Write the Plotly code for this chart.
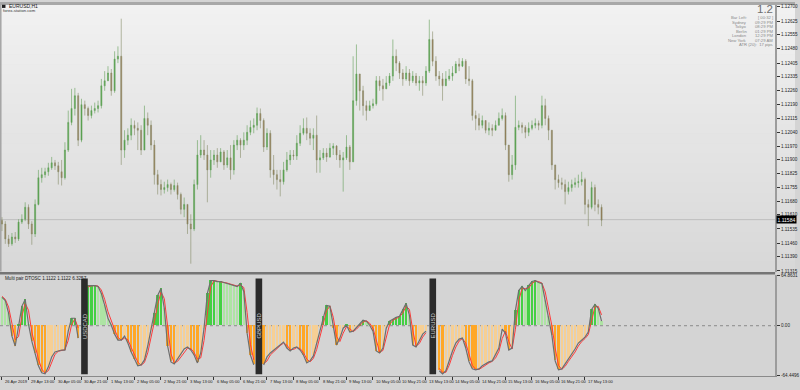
import plotly.graph_objects as go

# ---------------- data (EURUSD H1 chart, sampled as 2-hour bars) ----------------
BASE = 1.1100            # prices below are stored as pips above this base
first_open_pips = 58.0

close_pips = [
    56.1, 48.3, 45.7, 49.3, 48.3, 57.1, 58.6, 64.9, 56.1, 50.9,
    66.4, 80.4, 82.0, 83.5, 85.6, 88.2, 86.6, 83.5, 80.4, 94.9,
    109.4, 116.7, 123.4, 100.1, 118.7, 116.7, 113.0, 115.6, 116.7, 118.2,
    128.6, 131.2, 135.3, 126.0, 142.6, 144.1, 94.9, 100.1, 102.7, 107.9,
    106.3, 105.3, 94.9, 111.5, 107.9, 97.5, 82.0, 76.8, 74.2, 75.2,
    76.8, 74.2, 76.3, 71.6, 63.8, 66.4, 56.1, 53.5, 76.8, 92.3,
    94.9, 92.3, 84.5, 89.7, 92.3, 88.7, 93.9, 87.1, 90.8, 84.5,
    97.5, 100.1, 97.5, 100.1, 104.2, 106.8, 107.9, 114.1, 110.4, 96.5,
    103.7, 84.5, 82.0, 79.4, 78.3, 84.5, 89.7, 92.3, 91.8, 98.5,
    103.7, 106.3, 103.7, 101.1, 102.7, 89.7, 90.8, 93.3, 91.3, 95.9,
    97.0, 92.3, 89.7, 90.8, 96.5, 88.7, 120.8, 134.8, 126.0, 118.2,
    115.6, 118.2, 119.2, 131.2, 128.6, 127.0, 130.1, 133.7, 144.1, 140.5,
    135.3, 132.2, 135.3, 131.2, 133.7, 130.1, 131.2, 130.1, 136.3, 152.9,
    141.5, 133.7, 132.2, 128.6, 132.2, 133.7, 135.3, 140.0, 138.9, 141.5,
    132.2, 131.2, 113.0, 111.5, 107.9, 110.4, 105.3, 106.3, 105.3, 107.9,
    111.5, 113.0, 97.5, 82.0, 87.1, 106.8, 107.9, 106.8, 104.2, 106.3,
    107.9, 108.9, 107.9, 118.2, 111.5, 105.3, 87.1, 79.4, 77.8, 76.8,
    73.1, 75.2, 76.8, 77.8, 78.3, 79.4, 66.4, 64.9, 75.2, 66.4,
    64.9, 58.1]

high_pips = [
    59.7, 57.6, 50.4, 51.4, 51.9, 58.6, 61.2, 67.5, 66.4, 57.6,
    69.0, 84.5, 85.6, 85.6, 88.2, 91.3, 89.7, 88.7, 89.7, 99.0,
    115.6, 127.0, 127.5, 124.9, 121.8, 120.8, 117.7, 118.2, 119.8, 120.8,
    132.2, 136.3, 138.9, 137.4, 146.7, 149.3, 163.8, 105.3, 106.3, 111.5,
    110.4, 109.4, 107.9, 118.2, 114.6, 110.4, 100.1, 84.5, 79.4, 78.3,
    79.4, 77.8, 79.4, 77.8, 72.6, 70.0, 66.4, 61.2, 79.4, 100.1,
    102.7, 100.1, 97.5, 94.9, 94.9, 95.9, 95.9, 94.9, 94.9, 97.5,
    100.1, 102.7, 101.1, 104.2, 107.9, 110.4, 111.5, 117.2, 116.7, 111.5,
    106.3, 105.3, 92.3, 84.5, 84.5, 88.7, 93.9, 94.9, 94.9, 102.7,
    107.9, 111.5, 112.0, 106.3, 106.3, 113.0, 94.9, 95.9, 95.9, 98.5,
    98.5, 97.5, 94.9, 93.9, 102.7, 97.5, 144.1, 150.3, 131.2, 128.6,
    120.8, 120.8, 121.8, 133.7, 133.7, 132.2, 133.7, 135.3, 152.9, 147.7,
    141.5, 137.4, 138.9, 137.4, 136.3, 135.3, 133.7, 133.7, 138.9, 163.3,
    157.1, 144.1, 136.3, 135.3, 136.3, 137.4, 138.9, 141.5, 143.1, 143.1,
    142.6, 138.9, 132.2, 115.6, 114.1, 113.0, 110.4, 109.4, 108.4, 110.4,
    114.6, 116.7, 114.6, 97.5, 92.3, 123.4, 110.4, 109.4, 107.9, 109.4,
    110.4, 111.5, 110.4, 123.4, 121.8, 113.0, 105.3, 87.1, 82.0, 80.4,
    79.4, 78.3, 79.4, 80.4, 82.0, 83.5, 80.4, 69.0, 78.3, 76.8,
    69.0, 66.4]

low_pips = [
    52.4, 45.7, 44.1, 44.7, 46.2, 47.2, 56.1, 57.6, 53.5, 45.2,
    49.3, 65.9, 77.8, 80.4, 81.4, 84.5, 84.5, 76.8, 76.3, 79.4,
    93.9, 107.9, 113.0, 97.0, 99.0, 113.0, 110.4, 111.5, 114.1, 114.6,
    116.7, 126.0, 131.2, 123.4, 124.9, 140.5, 87.1, 90.8, 97.5, 100.1,
    102.7, 94.9, 92.3, 94.9, 102.7, 94.9, 76.8, 71.6, 71.1, 72.1,
    73.1, 71.6, 73.1, 69.0, 61.2, 59.7, 50.9, 35.3, 52.4, 74.2,
    90.8, 89.7, 67.5, 80.4, 87.1, 85.6, 90.8, 84.5, 85.6, 79.4,
    82.0, 94.9, 90.8, 94.9, 97.5, 102.7, 103.7, 105.3, 106.3, 93.9,
    94.9, 80.4, 76.8, 74.2, 70.6, 76.8, 83.5, 87.1, 89.7, 89.7,
    97.0, 102.7, 100.1, 97.5, 94.9, 83.0, 83.0, 89.7, 88.7, 90.8,
    92.3, 89.7, 85.6, 73.1, 89.7, 84.5, 88.7, 118.2, 115.6, 113.0,
    110.4, 115.6, 116.7, 118.2, 126.0, 120.8, 127.0, 128.6, 131.2, 136.3,
    132.2, 128.6, 131.2, 128.6, 130.1, 128.6, 126.0, 123.4, 128.6, 135.3,
    138.9, 131.2, 128.6, 120.8, 128.6, 131.2, 131.2, 136.3, 136.3, 138.4,
    129.6, 128.6, 110.4, 105.3, 105.3, 106.3, 103.7, 102.7, 102.2, 105.3,
    107.9, 110.4, 94.9, 78.3, 79.4, 84.5, 105.3, 103.7, 101.1, 102.2,
    105.3, 106.3, 105.3, 106.3, 107.9, 100.1, 84.5, 74.2, 75.2, 74.2,
    66.4, 71.6, 73.1, 75.2, 75.2, 76.3, 61.2, 55.0, 63.8, 62.8,
    61.2, 55.0]

osc_main = [
    36.5, 32.6, 16.0, -13.4, -26.2, 1.9, 25.0, 33.9, 1.9, -19.8,
    -35.2, -51.8, -60.8, -62.1, -53.1, -40.3, -33.9, -32.6, -31.4, -31.4,
    -7.0, 9.6, 9.6, -16.0, None, None, 51.8, 51.8, 51.8, 50.6,
    41.6, 26.2, 9.6, 0.6, -10.9, -18.6, -18.6, -13.4, -22.4, -33.9,
    -42.9, -51.8, -50.6, -44.2, -26.2, -5.8, 16.0, 39.0, 48.0, 22.4,
    -26.2, -46.7, -49.3, -42.9, -37.8, -30.1, -27.5, -31.4, -37.8, -48.0,
    -35.2, -3.2, 41.6, 58.2, 58.2, 57.0, 57.0, 55.7, 54.4, 53.1,
    51.8, 50.6, 54.4, 44.2, -9.6, -37.8, -50.6, None, None, -50.6,
    -40.3, -35.2, -31.4, -27.5, -23.7, -21.1, -28.8, -32.6, -28.8, -27.5,
    -31.4, -37.8, -48.0, -45.4, -39.0, -22.4, -3.2, 12.2, 26.2, 25.0,
    -3.2, -25.0, -16.0, -3.2, 0.6, -8.3, -7.0, -1.9, 1.9, 7.0,
    5.8, 0.6, -7.0, -32.6, -35.2, -28.8, -3.2, 5.8, 8.3, 10.9,
    12.2, 21.1, 28.8, 13.4, -25.0, -27.5, -18.6, -10.9, -7.0, None,
    None, None, -58.2, -62.1, -58.2, -44.2, -32.6, -22.4, -17.3, -16.0,
    -28.8, -46.7, -55.7, -57.0, -55.7, -51.8, -49.3, -46.7, -45.4, -37.8,
    -28.8, -4.5, -9.6, -31.4, -28.8, 19.8, 45.4, 50.6, 45.4, 51.8,
    57.0, 58.2, 55.7, 54.4, 32.6, 12.2, -12.2, -45.4, -57.0, -55.7,
    -49.3, -42.9, -37.8, -30.1, -22.4, -18.6, -14.7, -8.3, 21.1, 27.5,
    22.4, 5.8]

osc_signal = [
    38.0, 34.0, 24.0, 2.0, -18.0, -14.0, 12.0, 29.0, 20.0, -8.0,
    -27.0, -43.0, -56.0, -61.0, -58.0, -47.0, -37.0, -33.0, -32.0, -31.0,
    -19.0, 1.0, 9.0, -3.0, None, None, 50.0, 51.5, 51.8, 51.2,
    46.0, 34.0, 18.0, 5.0, -5.0, -15.0, -18.6, -16.0, -18.0, -28.0,
    -38.0, -47.0, -51.0, -47.5, -35.0, -16.0, 5.0, 27.0, 43.5, 35.0,
    -2.0, -36.0, -48.0, -46.0, -40.5, -34.0, -29.0, -29.5, -34.5, -43.0,
    -41.5, -19.0, 19.0, 50.0, 58.2, 57.6, 57.0, 56.3, 55.0, 53.7,
    52.5, 51.2, 52.5, 49.3, 17.0, -24.0, -44.0, None, None, -49.0,
    -45.5, -37.8, -33.3, -29.5, -25.6, -22.4, -25.0, -30.7, -30.7, -28.2,
    -29.5, -34.6, -43.0, -46.7, -42.2, -30.7, -12.8, 4.5, 19.2, 25.6,
    11.0, -14.0, -20.5, -9.6, -1.3, -3.8, -7.7, -4.5, 0.0, 4.5,
    6.4, 3.2, -3.2, -19.8, -34.0, -32.0, -16.0, 1.3, 7.0, 9.6,
    11.5, 16.6, 25.0, 21.1, -5.8, -26.2, -23.0, -14.7, -9.0, None,
    None, None, -55.0, -60.2, -60.2, -51.2, -38.4, -27.5, -19.8, -16.6,
    -22.4, -37.8, -51.2, -56.3, -56.3, -53.8, -50.6, -48.0, -46.0, -41.6,
    -33.3, -16.6, -7.0, -20.5, -30.1, -4.5, 32.6, 48.0, 48.0, 48.6,
    54.4, 57.6, 57.0, 55.0, 43.5, 22.4, 0.0, -28.8, -51.2, -56.3,
    -52.5, -46.0, -40.3, -34.0, -26.2, -20.5, -16.6, -11.5, 6.4, 24.3,
    25.0, 14.0]

date_labels = ["26 Apr 2019", "29 Apr 13:00", "30 Apr 05:00", "30 Apr 21:00",
               "1 May 13:00", "2 May 05:00", "2 May 21:00", "3 May 13:00",
               "6 May 05:00", "6 May 21:00", "7 May 13:00", "8 May 05:00",
               "8 May 21:00", "9 May 13:00", "10 May 05:00", "10 May 21:00",
               "13 May 13:00", "14 May 05:00", "14 May 21:00", "15 May 13:00",
               "16 May 05:00", "16 May 21:00", "17 May 13:00"]
bars_per_label = 8

price_ticks = [1.12700, 1.12625, 1.12555, 1.12480, 1.12405, 1.12335, 1.12260,
               1.12190, 1.12115, 1.12040, 1.11970, 1.11900, 1.11825, 1.11755,
               1.11680, 1.11610, 1.11535, 1.11460, 1.11390, 1.11315]
price_range = [1.11312, 1.12710]
osc_ticks = [64.8631, 0.0, -64.4496]
osc_ticktext = ["64.8631", "0.00", "-64.4496"]
current_price = 1.11584

pair_names = ["USDCAD", "GBPUSD", "EURUSD"]
pair_bar_pos = [24.9, 77.55, 130.05]

info_labels = ["Bar Left:", "Sydney", "Tokyo", "Berlin", "London", "New York"]
info_values = ["[ 00:32 ]", "09:29 PM", "08:29 PM", "01:29 PM", "12:29 PM", "07:29 AM"]
atr_text = "ATR (20):  17 pips"
spread_text = "1.2"

# ---------------- build ----------------
n = len(close_pips)
idx = list(range(n))
close = [BASE + p / 1e4 for p in close_pips]
opens = [BASE + first_open_pips / 1e4] + close[:-1]
high = [max(BASE + h / 1e4, o, c) for h, o, c in zip(high_pips, opens, close)]
low = [min(BASE + l / 1e4, o, c) for l, o, c in zip(low_pips, opens, close)]

hist_colors = []
for m, s in zip(osc_main, osc_signal):
    if m is None:
        hist_colors.append("rgba(0,0,0,0)")
    elif m >= 0:
        hist_colors.append("#44d044" if (s is None or m >= s) else "#aee4a4")
    else:
        hist_colors.append("#ffa726" if (s is None or m <= s) else "#f6cf94")

W, H = 800, 390
FONT = "Liberation Sans Narrow, Liberation Sans, Arial"


def py(p):
    return 1 - p / H


def px(p):
    return p / W


xr = [-0.6, 233.4]
xdom = [0, 780 / W]

fig = go.Figure()
fig.add_trace(go.Candlestick(
    x=idx, open=opens, high=high, low=low, close=close,
    increasing=dict(line=dict(color="rgba(100,160,90,0.6)", width=1), fillcolor="rgba(55,150,45,0.85)"),
    decreasing=dict(line=dict(color="rgba(135,140,105,0.6)", width=1), fillcolor="rgba(140,95,50,0.85)"),
    whiskerwidth=0, xaxis="x", yaxis="y", hoverinfo="skip", showlegend=False))

fig.add_trace(go.Bar(x=idx, y=osc_main, width=0.72,
                     marker=dict(color=hist_colors, line=dict(width=0)),
                     xaxis="x2", yaxis="y2", showlegend=False, hoverinfo="skip"))
fig.add_trace(go.Scatter(x=idx, y=osc_signal, mode="lines",
                         line=dict(color="#ff3a3a", width=1),
                         xaxis="x2", yaxis="y2", showlegend=False, hoverinfo="skip"))
fig.add_trace(go.Scatter(x=idx, y=osc_main, mode="lines",
                         line=dict(color="#6e6e6e", width=1.2),
                         xaxis="x2", yaxis="y2", showlegend=False, hoverinfo="skip"))

shapes = []
# gradient background of the price panel
nb = 27
for k in range(nb):
    y0 = 3 + k * 10
    shade = int(round(241 - 25 * k / (nb - 1)))
    shapes.append(dict(type="rect", xref="paper", yref="paper", x0=0, x1=1,
                       y0=py(min(y0 + 10.5, 274)), y1=py(y0), fillcolor=f"rgb({shade},{shade},{shade})",
                       line=dict(width=0), layer="below"))
# top border
shapes.append(dict(type="rect", xref="paper", yref="paper", x0=0, x1=1, y0=py(3), y1=1,
                   fillcolor="#a8a8a8", line=dict(width=0), layer="below"))
# divider between panels
shapes.append(dict(type="rect", xref="paper", yref="paper", x0=0, x1=xdom[1], y0=py(276), y1=py(273.5),
                   fillcolor="#757575", line=dict(width=0), layer="below"))
# left edge line of price panel
shapes.append(dict(type="line", xref="paper", yref="paper", x0=px(0.8), x1=px(0.8), y0=py(273), y1=py(3),
                   line=dict(color="#a4a4a4", width=1.5), layer="below"))
# current price line
shapes.append(dict(type="line", xref="paper", yref="y", x0=0, x1=xdom[1], y0=current_price, y1=current_price,
                   line=dict(color="rgba(150,150,150,0.45)", width=1), layer="below"))
# zero level of oscillator
shapes.append(dict(type="line", xref="paper", yref="y2", x0=0, x1=xdom[1], y0=0, y1=0,
                   line=dict(color="#8c8c8c", width=1, dash="dot"), layer="below"))
# pair separator blocks
for pos in pair_bar_pos:
    shapes.append(dict(type="rect", xref="x2", yref="y2", x0=pos - 1.0, x1=pos + 1.0, y0=-62.5, y1=61.0,
                       fillcolor="#2b2b2b", line=dict(width=0), layer="above"))
# little chart icon
shapes.append(dict(type="rect", xref="paper", yref="paper", x0=px(2), x1=px(5.5), y0=py(6), y1=py(2.8),
                   fillcolor="#222222", line=dict(width=0)))

ann = []
small = dict(family=FONT, size=5, color="#1a1a1a")
ann.append(dict(text="EURUSD,H1", x=px(7.5), y=py(4.4), xref="paper", yref="paper",
                xanchor="left", yanchor="middle", showarrow=False, font=small))
ann.append(dict(text="forex-station.com", x=px(1.5), y=py(8.4), xref="paper", yref="paper",
                xanchor="left", yanchor="middle", showarrow=False, font=dict(family=FONT, size=4.2, color="#333")))
ann.append(dict(text="Multi pair DTOSC 1.1122 1.1122 6.3257", x=px(3), y=py(280), xref="paper", yref="paper",
                xanchor="left", yanchor="middle", showarrow=False, font=dict(family=FONT, size=4.6, color="#1a1a1a")))
# current price tag
ann.append(dict(text="1.11584", x=px(781), y=current_price, xref="paper", yref="y",
                xanchor="left", yanchor="middle", showarrow=False,
                font=dict(family=FONT, size=5, color="#ffffff"), bgcolor="#000000", borderpad=0.5))
# pair names
for name, pos in zip(pair_names, pair_bar_pos):
    ann.append(dict(text=name, x=pos, y=0, xref="x2", yref="y2", textangle=-90,
                    showarrow=False, font=dict(family=FONT, size=6, color="#cfcfcf")))
# date labels
for k, lab in enumerate(date_labels):
    ann.append(dict(text=lab, x=k * bars_per_label, y=py(384.3), xref="x2", yref="paper",
                    xanchor="left", yanchor="middle", xshift=1, showarrow=False,
                    font=dict(family=FONT, size=4.1, color="#1a1a1a")))
# top-right info panel
ann.append(dict(text=spread_text, x=px(779), y=py(7.0), xref="paper", yref="paper",
                xanchor="right", yanchor="middle", showarrow=False, borderpad=0,
                font=dict(family=FONT, size=11.5, color="#6e6e6e")))
row_y = [16.0, 20.5, 25.0, 29.5, 34.0, 38.6]
gray = dict(family=FONT, size=4.2, color="#8a8a8a")
for lab, val, yy in zip(info_labels, info_values, row_y):
    ann.append(dict(text=lab, x=px(753), y=py(yy), xref="paper", yref="paper",
                    xanchor="right", yanchor="middle", showarrow=False, borderpad=0, font=gray))
    ann.append(dict(text=val, x=px(779), y=py(yy), xref="paper", yref="paper",
                    xanchor="right", yanchor="middle", showarrow=False, borderpad=0, font=gray))
ann.append(dict(text=atr_text, x=px(779), y=py(43.2), xref="paper", yref="paper",
                xanchor="right", yanchor="middle", showarrow=False, borderpad=0, font=gray))

axis_font = dict(family=FONT, size=4.6, color="#1e1e1e")
fig.update_layout(
    width=W, height=H, margin=dict(l=0, r=0, t=0, b=0),
    paper_bgcolor="#d4d4d4", plot_bgcolor="rgba(0,0,0,0)",
    showlegend=False, shapes=shapes, annotations=ann, bargap=0, boxgap=0.55,
    xaxis=dict(domain=xdom, range=xr, anchor="y", showticklabels=False, showgrid=False,
               zeroline=False, rangeslider=dict(visible=False), ticks="", showline=False),
    xaxis2=dict(domain=xdom, range=xr, anchor="y2", showticklabels=False, showgrid=False,
                zeroline=False, ticks="outside", ticklen=3, tickwidth=1, tickcolor="#333",
                tickvals=[k * bars_per_label for k in range(len(date_labels))],
                showline=True, linecolor="#8a8a8a", linewidth=1),
    yaxis=dict(domain=[py(273), py(3)], range=price_range, anchor="x", side="right",
               tickvals=price_ticks, ticktext=[f"{v:.5f}" for v in price_ticks],
               ticks="outside", ticklen=3, tickwidth=1, tickcolor="#333", tickfont=axis_font,
               showgrid=False, zeroline=False, showline=True, linecolor="#9c9c9c", linewidth=2),
    yaxis2=dict(domain=[py(378.5), py(277)], range=[-64.4496, 64.8631], anchor="x2", side="right",
                tickvals=osc_ticks, ticktext=osc_ticktext,
                ticks="outside", ticklen=3, tickwidth=1, tickcolor="#333", tickfont=axis_font,
                showgrid=False, zeroline=False, showline=True, linecolor="#9c9c9c", linewidth=2),
)

fig.write_html("out.html")
